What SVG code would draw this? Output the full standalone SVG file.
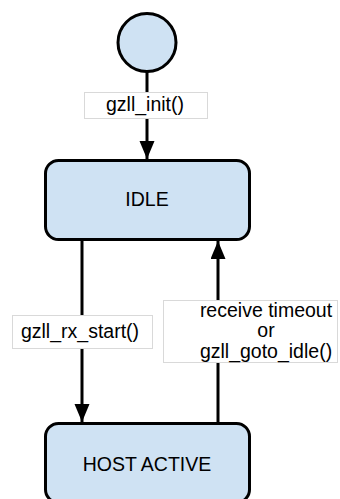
<svg xmlns="http://www.w3.org/2000/svg" width="340" height="499" viewBox="0 0 340 499">
  <style>
    .state { fill: #cfe2f3; stroke: #000; stroke-width: 3; }
    .edge { fill: none; stroke: #000; stroke-width: 3; }
    .lbox { fill: #fff; stroke: #d9d9d9; stroke-width: 1; }
    text { font-family: "Liberation Sans", Arial, sans-serif; font-size: 19.5px; fill: #000; text-anchor: middle; }
  </style>
  <defs>
    <!-- slender filled arrowhead, tip at the path end -->
    <marker id="arrow" markerUnits="userSpaceOnUse" markerWidth="19" markerHeight="16" refX="18" refY="7.5" orient="auto">
      <path d="M0,0 L18,7.5 L0,15 Z" fill="#000"/>
    </marker>
  </defs>
  <rect width="340" height="499" fill="#fff"/>

  <g id="connectors">
    <line class="edge" x1="147" y1="72" x2="147" y2="159" marker-end="url(#arrow)"/>
    <line class="edge" x1="82" y1="241" x2="82" y2="422" marker-end="url(#arrow)"/>
    <line class="edge" x1="218" y1="423" x2="218" y2="241" marker-end="url(#arrow)"/>
  </g>

  <g id="edge-labels">
    <g id="label-init">
      <rect class="lbox" x="84.5" y="92.5" width="123" height="26"/>
      <text x="145" y="111">gzll_init()</text>
    </g>
    <g id="label-rx-start">
      <rect class="lbox" x="12.5" y="315.5" width="140" height="33"/>
      <text x="80" y="337.5">gzll_rx_start()</text>
    </g>
    <g id="label-goto-idle">
      <rect class="lbox" x="163.5" y="300.5" width="174" height="62"/>
      <text x="266" y="317">receive timeout</text>
      <text x="266" y="337">or</text>
      <text x="266" y="358">gzll_goto_idle()</text>
    </g>
  </g>

  <g id="start">
    <circle class="state" cx="147" cy="42.5" r="29"/>
  </g>

  <g id="idle">
    <rect class="state" x="45.5" y="160.5" width="204" height="79" rx="13"/>
    <text x="147" y="206">IDLE</text>
  </g>

  <g id="host-active">
    <rect class="state" x="45.5" y="423.5" width="204" height="79" rx="13"/>
    <text x="147" y="471">HOST ACTIVE</text>
  </g>
</svg>
